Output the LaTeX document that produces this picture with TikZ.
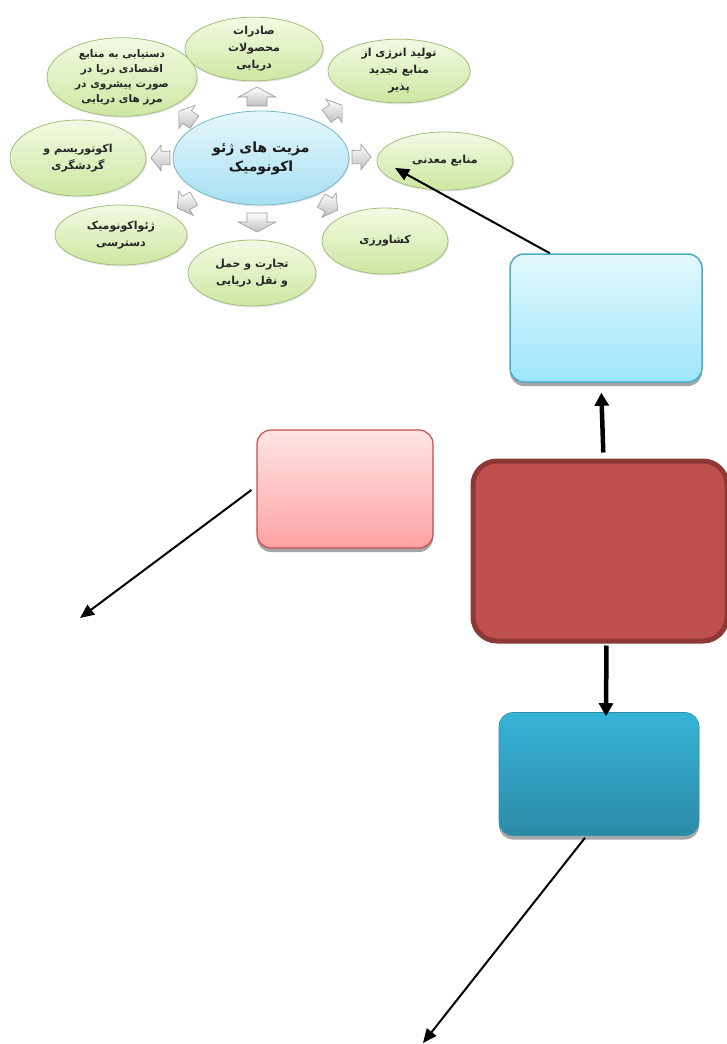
\documentclass[tikz,border=0pt]{standalone}
\usepackage{fontspec}
\newfontfamily\arabicfont[Script=Arabic]{DejaVu Sans}
\TeXXeTstate=1
\usetikzlibrary{shapes.geometric,arrows.meta,shadows,calc}
\newcommand\rl[1]{\beginR#1\endR}

\definecolor{leaftop}{HTML}{F3FAE3}
\definecolor{leafbot}{HTML}{CDE7A2}
\definecolor{leafedge}{HTML}{A3BD7C}
\definecolor{coretop}{HTML}{E6F7FC}
\definecolor{corebot}{HTML}{A6DFF3}
\definecolor{coreedge}{HTML}{79B5CA}
\definecolor{skytop}{HTML}{E4F8FD}
\definecolor{skybot}{HTML}{9CE6FA}
\definecolor{skyedge}{HTML}{4BACC6}
\definecolor{rosetop}{HTML}{FFE5E5}
\definecolor{rosebot}{HTML}{FFA2A2}
\definecolor{roseedge}{HTML}{C0504D}
\definecolor{brick}{HTML}{C0504D}
\definecolor{brickedge}{HTML}{8C3835}
\definecolor{tealtop}{HTML}{37B3D8}
\definecolor{tealbot}{HTML}{2B8BA7}

\begin{document}
\begin{tikzpicture}[x=1pt,y=-1pt,
  benefit/.style={ellipse, draw=leafedge, line width=0.8pt,
    top color=leaftop, bottom color=leafbot, inner sep=0pt,
    drop shadow={opacity=0.2, shadow xshift=1pt, shadow yshift=-1.5pt},
    font=\arabicfont\bfseries\fontsize{11}{17}\selectfont,
    align=center, text=black!85},
  core/.style={ellipse, draw=coreedge, line width=0.8pt,
    top color=coretop, bottom color=corebot, inner sep=0pt,
    drop shadow={opacity=0.2, shadow xshift=1pt, shadow yshift=-1.5pt},
    font=\arabicfont\bfseries\fontsize{14}{19}\selectfont,
    align=center, text=black!90},
  spokestyle/.style={top color=white, bottom color=gray!50,
    draw=gray!80, line width=0.6pt, line join=miter},
  pics/spoke/.style={code={
    \path[spokestyle] (-9,-8) -- (0,-8) -- (0,-15) -- (10,0)
      -- (0,15) -- (0,8) -- (-9,8) -- cycle;}},
  panel/.style={rounded corners=14pt, inner sep=0pt},
  boxshadow/.style={drop shadow={shadow xshift=0pt, shadow yshift=-4pt,
    fill=black, opacity=0.35}},
  thinarrow/.style={line width=2pt, -{Triangle[length=14pt,width=12pt]}},
  heavyarrow/.style={line width=4.5pt, -{Triangle[length=13pt,width=14pt]}}
]
\useasboundingbox (0,0) rectangle (726,1044);

% ---- geo-economic benefits cluster ----
\node[core, minimum width=176pt, minimum height=94pt] (hub) at (261,158)
  {\rl{مزیت های ژئو}\\\rl{اکونومیک}};

\node[benefit, minimum width=138pt, minimum height=62pt] (export) at (254,49)
  {\rl{صادرات}\\\rl{محصولات}\\\rl{دریایی}};
\node[benefit, minimum width=142pt, minimum height=58pt] (energy) at (399,71)
  {\rl{تولید انرژی از}\\\rl{منابع تجدید}\\\rl{پذیر}};
\node[benefit, minimum width=136pt, minimum height=58pt] (mineral) at (445,161)
  {\rl{منابع معدنی}};
\node[benefit, minimum width=126pt, minimum height=66pt] (farm) at (385,241)
  {\rl{کشاورزی}};
\node[benefit, minimum width=128pt, minimum height=66pt] (trade) at (252,273)
  {\rl{تجارت و حمل}\\\rl{و نقل دریایی}};
\node[benefit, minimum width=132pt, minimum height=60pt] (access) at (121,235)
  {\rl{ژئواکونومیک}\\\rl{دسترسی}};
\node[benefit, minimum width=136pt, minimum height=76pt] (tourism) at (78,158)
  {\rl{اکوتوریسم و}\\\rl{گردشگری}};
\node[benefit, minimum width=150pt, minimum height=74pt,
  font=\arabicfont\bfseries\fontsize{10.5}{15}\selectfont] (frontier) at (122,77)
  {\rl{دستیابی به منابع}\\\rl{اقتصادی دریا در}\\\rl{صورت پیشروی در}\\\rl{مرز های دریایی}};

% block arrows radiating from the hub
\pic[rotate=90,  yscale=1.25] at (257,97)  {spoke};
\pic[rotate=35,  yscale=0.95] at (334,111) {spoke};
\pic[rotate=0,   yscale=0.85] at (361,157) {spoke};
\pic[rotate=-30, yscale=0.95] at (329,205) {spoke};
\pic[rotate=-90, yscale=1.25] at (257,222) {spoke};
\pic[rotate=210, yscale=0.95] at (186,203) {spoke};
\pic[rotate=180, yscale=0.85] at (161,158) {spoke};
\pic[rotate=145, yscale=0.95] at (187,117) {spoke};

% ---- empty panels ----
\node[panel, boxshadow, draw=skyedge, line width=1.5pt,
  top color=skytop, bottom color=skybot,
  minimum width=192pt, minimum height=128pt] (sky) at (606,318) {};
\node[panel, boxshadow, draw=roseedge, line width=1.2pt,
  top color=rosetop, bottom color=rosebot,
  minimum width=176pt, minimum height=118pt] (rose) at (345,489) {};
\node[panel, rounded corners=24pt, draw=brickedge, line width=5pt, fill=brick,
  minimum width=254pt, minimum height=180pt] (core) at (600,551) {};
\node[panel, boxshadow, draw=tealtop!80!black, line width=0.6pt,
  top color=tealtop, bottom color=tealbot,
  minimum width=200pt, minimum height=123pt] (teal) at (599,774) {};

\coordinate (leftend) at (80,618);
\coordinate (bottomend) at (423,1043);

% ---- connectors ----
\draw[thinarrow] ($(sky.north west)!0.21!(sky.north east)$)
  -- ($(mineral.center)+(-50,7)$);
\draw[heavyarrow, shorten <=6pt, shorten >=10pt]
  ([xshift=3.5pt]core.north) -- ([xshift=-5pt]sky.south);
\draw[heavyarrow, shorten <=2pt, shorten >=-4pt]
  ([xshift=6.5pt]core.south) -- ([xshift=7pt]teal.north);
\draw[thinarrow] ($(rose.west)+(-5,1)$) -- (leftend);
\draw[thinarrow] ($(teal.south)+(-14,2)$) -- (bottomend);
\end{tikzpicture}
\end{document}
